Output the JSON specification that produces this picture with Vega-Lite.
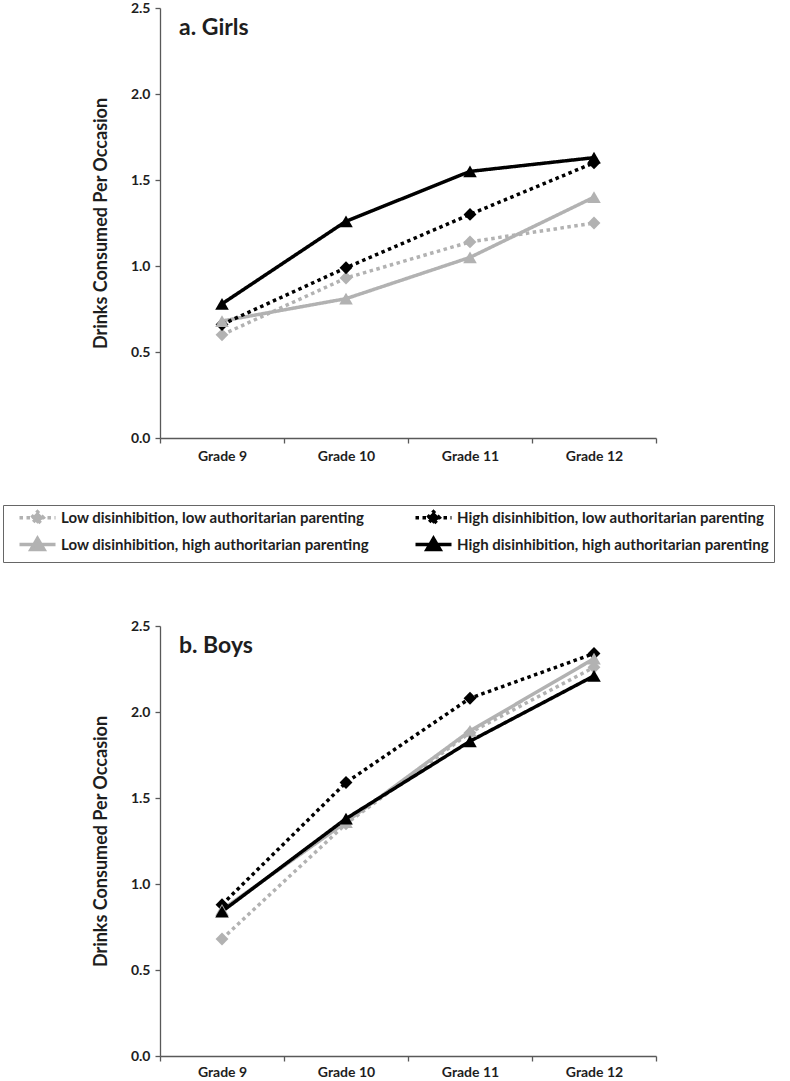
{
  "$schema": "https://vega.github.io/schema/vega-lite/v6.json",
  "background": "white",
  "padding": {"left": 2, "top": 1, "right": 0, "bottom": 0},
  "spacing": 156,
  "config": {
    "font": "Lato",
    "view": {"stroke": null},
    "axis": {
      "labelFont": "Lato", "labelFontWeight": "bold", "labelColor": "#1e1e1e", "labelFontSize": 14,
      "titleFont": "Lato", "titleFontWeight": "bold", "titleFontSize": 18, "titleColor": "#1e1e1e",
      "domainColor": "#595959", "tickColor": "#595959", "domainWidth": 1.3, "tickWidth": 1.3, "tickSize": 5, "grid": false
    },
    "legend": {
      "orient": "none", "legendX": -157, "legendY": 497, "columns": 2, "title": null,
      "strokeColor": "#666666", "fillColor": "white", "padding": 5,
      "labelFont": "Lato", "labelFontWeight": "bold", "labelFontSize": 15, "labelColor": "#1e1e1e", "labelLimit": 0,
      "columnPadding": 35, "rowPadding": 0, "symbolSize": 100, "symbolOffset": 22, "labelOffset": 16,
      "symbolStrokeWidth": 3.5, "symbolOpacity": 1
    }
  },
  "datasets": {
    "girls": [
      {"group": "Low disinhibition, low authoritarian parenting", "grade": "Grade 9", "drinks": 0.60},
      {"group": "Low disinhibition, low authoritarian parenting", "grade": "Grade 10", "drinks": 0.93},
      {"group": "Low disinhibition, low authoritarian parenting", "grade": "Grade 11", "drinks": 1.14},
      {"group": "Low disinhibition, low authoritarian parenting", "grade": "Grade 12", "drinks": 1.25},
      {"group": "Low disinhibition, high authoritarian parenting", "grade": "Grade 9", "drinks": 0.68},
      {"group": "Low disinhibition, high authoritarian parenting", "grade": "Grade 10", "drinks": 0.81},
      {"group": "Low disinhibition, high authoritarian parenting", "grade": "Grade 11", "drinks": 1.05},
      {"group": "Low disinhibition, high authoritarian parenting", "grade": "Grade 12", "drinks": 1.40},
      {"group": "High disinhibition, low authoritarian parenting", "grade": "Grade 9", "drinks": 0.66},
      {"group": "High disinhibition, low authoritarian parenting", "grade": "Grade 10", "drinks": 0.99},
      {"group": "High disinhibition, low authoritarian parenting", "grade": "Grade 11", "drinks": 1.30},
      {"group": "High disinhibition, low authoritarian parenting", "grade": "Grade 12", "drinks": 1.60},
      {"group": "High disinhibition, high authoritarian parenting", "grade": "Grade 9", "drinks": 0.78},
      {"group": "High disinhibition, high authoritarian parenting", "grade": "Grade 10", "drinks": 1.26},
      {"group": "High disinhibition, high authoritarian parenting", "grade": "Grade 11", "drinks": 1.55},
      {"group": "High disinhibition, high authoritarian parenting", "grade": "Grade 12", "drinks": 1.63}
    ],
    "boys": [
      {"group": "Low disinhibition, low authoritarian parenting", "grade": "Grade 9", "drinks": 0.68},
      {"group": "Low disinhibition, low authoritarian parenting", "grade": "Grade 10", "drinks": 1.35},
      {"group": "Low disinhibition, low authoritarian parenting", "grade": "Grade 11", "drinks": 1.88},
      {"group": "Low disinhibition, low authoritarian parenting", "grade": "Grade 12", "drinks": 2.26},
      {"group": "Low disinhibition, high authoritarian parenting", "grade": "Grade 9", "drinks": 0.85},
      {"group": "Low disinhibition, high authoritarian parenting", "grade": "Grade 10", "drinks": 1.36},
      {"group": "Low disinhibition, high authoritarian parenting", "grade": "Grade 11", "drinks": 1.89},
      {"group": "Low disinhibition, high authoritarian parenting", "grade": "Grade 12", "drinks": 2.31},
      {"group": "High disinhibition, low authoritarian parenting", "grade": "Grade 9", "drinks": 0.88},
      {"group": "High disinhibition, low authoritarian parenting", "grade": "Grade 10", "drinks": 1.59},
      {"group": "High disinhibition, low authoritarian parenting", "grade": "Grade 11", "drinks": 2.08},
      {"group": "High disinhibition, low authoritarian parenting", "grade": "Grade 12", "drinks": 2.34},
      {"group": "High disinhibition, high authoritarian parenting", "grade": "Grade 9", "drinks": 0.84},
      {"group": "High disinhibition, high authoritarian parenting", "grade": "Grade 10", "drinks": 1.38},
      {"group": "High disinhibition, high authoritarian parenting", "grade": "Grade 11", "drinks": 1.83},
      {"group": "High disinhibition, high authoritarian parenting", "grade": "Grade 12", "drinks": 2.21}
    ]
  },
  "vconcat": [
    {
      "width": 496, "height": 430,
      "data": {"name": "girls"},
      "encoding": {
        "x": {"field": "grade", "type": "ordinal", "sort": ["Grade 9", "Grade 10", "Grade 11", "Grade 12"], "scale": {"type": "band", "paddingInner": 0, "paddingOuter": 0}, "axis": {"title": null, "labelAngle": 0, "tickBand": "extent", "labelPadding": 6}},
        "y": {"field": "drinks", "type": "quantitative", "scale": {"domain": [0, 2.5]}, "axis": {"title": "Drinks Consumed Per Occasion", "values": [0, 0.5, 1, 1.5, 2, 2.5], "format": ".1f", "labelPadding": 5, "titlePadding": 20}}
      },
      "layer": [
        {"mark": {"type": "line", "strokeWidth": 3.5},
         "encoding": {
           "color": {"field": "group", "type": "nominal", "scale": {"domain": ["Low disinhibition, low authoritarian parenting", "Low disinhibition, high authoritarian parenting", "High disinhibition, low authoritarian parenting", "High disinhibition, high authoritarian parenting"], "range": ["#b2b2b2", "#b2b2b2", "#000000", "#000000"]}},
           "strokeDash": {"field": "group", "type": "nominal", "scale": {"domain": ["Low disinhibition, low authoritarian parenting", "Low disinhibition, high authoritarian parenting", "High disinhibition, low authoritarian parenting", "High disinhibition, high authoritarian parenting"], "range": [[3.5, 3.5], [1, 0], [3.5, 3.5], [1, 0]]}}}},
        {"transform": [{"filter": "indexof(datum.group, 'low authoritarian') >= 0"}],
         "mark": {"type": "point", "filled": true, "opacity": 1, "size": 165, "shape": "diamond"},
         "encoding": {"color": {"field": "group", "type": "nominal"}}},
        {"transform": [{"filter": "indexof(datum.group, 'high authoritarian') >= 0"}],
         "mark": {"type": "point", "filled": true, "opacity": 1, "size": 185, "shape": "triangle-up"},
         "encoding": {"color": {"field": "group", "type": "nominal"}}},
        {"mark": {"type": "point", "filled": true, "opacity": 0},
         "encoding": {
           "color": {"field": "group", "type": "nominal"},
           "shape": {"field": "group", "type": "nominal", "scale": {"domain": ["Low disinhibition, low authoritarian parenting", "Low disinhibition, high authoritarian parenting", "High disinhibition, low authoritarian parenting", "High disinhibition, high authoritarian parenting"], "range": ["M-3.6,0L3.6,0M-1.2,0L0,-1.2L1.2,0L0,1.2Z", "M-3.6,0L3.6,0M0,-1.2L1.3,1L-1.3,1Z", "M-3.6,0L3.6,0M-1.2,0L0,-1.2L1.2,0L0,1.2Z", "M-3.6,0L3.6,0M0,-1.2L1.3,1L-1.3,1Z"]}}}},
        {"data": {"values": [{"label": "a. Girls", "grade": "Grade 9", "drinks": 2.5}]},
         "mark": {"type": "text", "align": "left", "baseline": "alphabetic", "dx": -43, "dy": 27, "fontSize": 23, "fontWeight": "bold", "font": "Lato", "color": "#1e1e1e"},
         "encoding": {"text": {"field": "label", "type": "nominal"}}}
      ]
    },
    {
      "width": 496, "height": 430,
      "data": {"name": "boys"},
      "encoding": {
        "x": {"field": "grade", "type": "ordinal", "sort": ["Grade 9", "Grade 10", "Grade 11", "Grade 12"], "scale": {"type": "band", "paddingInner": 0, "paddingOuter": 0}, "axis": {"title": null, "labelAngle": 0, "tickBand": "extent", "labelPadding": 4}},
        "y": {"field": "drinks", "type": "quantitative", "scale": {"domain": [0, 2.5]}, "axis": {"title": "Drinks Consumed Per Occasion", "values": [0, 0.5, 1, 1.5, 2, 2.5], "format": ".1f", "labelPadding": 5, "titlePadding": 20}}
      },
      "layer": [
        {"mark": {"type": "line", "strokeWidth": 3.5},
         "encoding": {"color": {"field": "group", "type": "nominal"}, "strokeDash": {"field": "group", "type": "nominal"}}},
        {"transform": [{"filter": "indexof(datum.group, 'low authoritarian') >= 0"}],
         "mark": {"type": "point", "filled": true, "opacity": 1, "size": 165, "shape": "diamond"},
         "encoding": {"color": {"field": "group", "type": "nominal"}}},
        {"transform": [{"filter": "indexof(datum.group, 'high authoritarian') >= 0"}],
         "mark": {"type": "point", "filled": true, "opacity": 1, "size": 185, "shape": "triangle-up"},
         "encoding": {"color": {"field": "group", "type": "nominal"}}},
        {"data": {"values": [{"label": "b. Boys", "grade": "Grade 9", "drinks": 2.5}]},
         "mark": {"type": "text", "align": "left", "baseline": "alphabetic", "dx": -43, "dy": 27, "fontSize": 23, "fontWeight": "bold", "font": "Lato", "color": "#1e1e1e"},
         "encoding": {"text": {"field": "label", "type": "nominal"}}}
      ]
    }
  ]
}
